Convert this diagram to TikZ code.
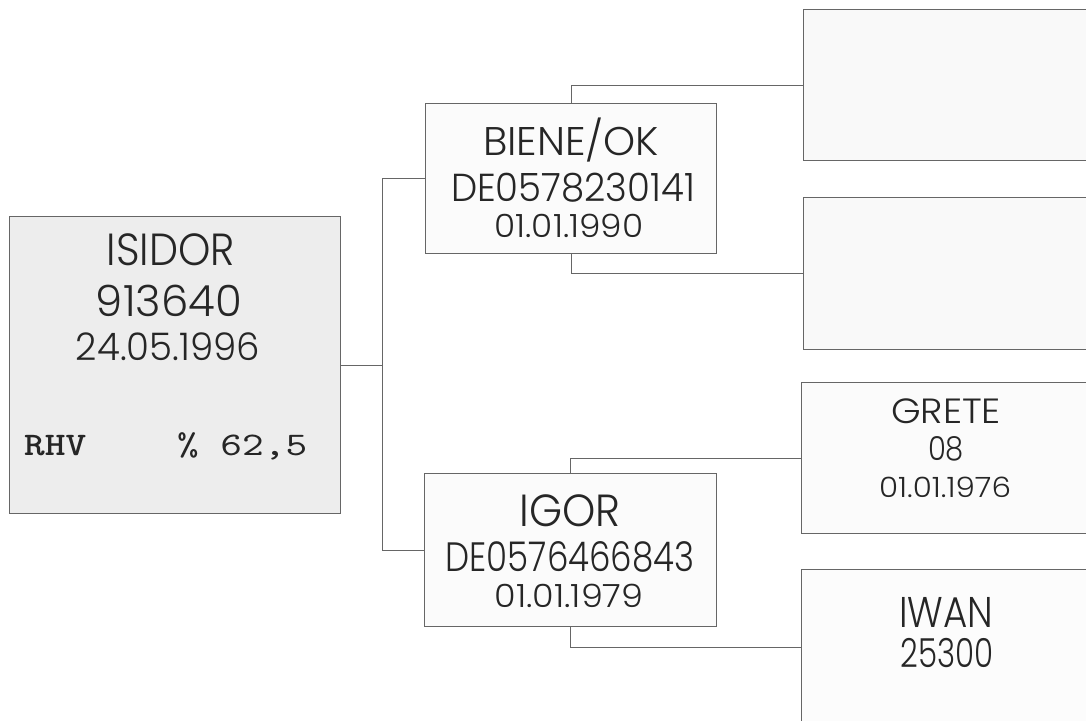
\documentclass[tikz,border=0pt]{standalone}
\usepackage{fontspec}
\setmainfont{Poppins Light}
\newfontfamily\monob{lmmonolt10-bold.otf}
\newfontfamily\monor{lmmono10-regular.otf}
\definecolor{inkc}{gray}{0.15}
\definecolor{linec}{gray}{0.4}
\newcommand\fw[2]{\resizebox{#1pt}{\height}{#2}}
\begin{document}
\begin{tikzpicture}[x=1pt,y=-1pt,
  box/.style={draw=linec, line width=0.9pt, anchor=north west, inner sep=0pt, fill=white},
  conn/.style={draw=linec, line width=0.7pt},
  txt/.style={anchor=base, inner sep=0pt, text=inkc}]
\useasboundingbox (0,0) rectangle (1086,720);
\clip (0,0) rectangle (1086,720);
\fill[white] (0,0) rectangle (1086,720);
% boxes
\node[box, fill=gray!14, minimum width=331pt, minimum height=297pt] (isidor) at (9,216) {};
\node[box, fill=gray!3, minimum width=291pt, minimum height=150pt] (biene) at (425,103) {};
\node[box, fill=gray!3, minimum width=292pt, minimum height=153pt] (igor) at (424,473) {};
\node[box, fill=gray!5, minimum width=290pt, minimum height=151pt] (r1) at (803,9) {};
\node[box, fill=gray!5, minimum width=290pt, minimum height=152pt] (r2) at (803,197) {};
\node[box, fill=gray!3, minimum width=292pt, minimum height=151pt] (grete) at (801,382) {};
\node[box, fill=gray!2, minimum width=292pt, minimum height=155pt] (iwan) at (801,569) {};
% connectors
\coordinate (j) at (382,367);
\draw[conn] (isidor.east) -- (isidor.east -| j);
\draw[conn] (biene.west) -- (biene.west -| j) |- (igor.west);
\draw[conn] (biene.north) |- (r1.west);
\draw[conn] (biene.south) |- (r2.west);
\draw[conn] (igor.north) |- (grete.west);
\draw[conn] (igor.south) |- (iwan.west);
% texts
\node[txt, font=\fontsize{45}{45}\selectfont] (t1) at (171,265) {\fw{128}{ISIDOR}};
\node[txt, font=\fontsize{43}{43}\selectfont] (t2) at (169,316) {\fw{146}{913640}};
\node[txt, font=\fontsize{38}{38}\selectfont] (t3) at (168,360) {\fw{184}{24.05.1996}};
\node[txt, anchor=base west, font=\monob\fontsize{33}{33}\selectfont] (t4) at (24,455) {\fw{62}{RHV}};
\node[txt, anchor=base west, font=\monor\fontsize{33}{33}\selectfont] (t5) at (177,455) {\fw{130}{\%~62,5}};
\node[txt, font=\fontsize{40}{40}\selectfont] (b1) at (571,155) {\fw{176}{BIENE/OK}};
\node[txt, font=\fontsize{39}{39}\selectfont] (b2) at (573,201) {\fw{244}{DE0578230141}};
\node[txt, font=\fontsize{32}{32}\selectfont] (b3) at (569,237) {\fw{149}{01.01.1990}};
\node[txt, font=\fontsize{45}{45}\selectfont] (g1) at (570,526) {\fw{101}{IGOR}};
\node[txt, font=\fontsize{41}{41}\selectfont] (g2) at (570,571) {\fw{249}{DE0576466843}};
\node[txt, font=\fontsize{32}{32}\selectfont] (g3) at (569,607) {\fw{149}{01.01.1979}};
\node[txt, font=\fontsize{35}{35}\selectfont] (r1a) at (946,423) {\fw{110}{GRETE}};
\node[txt, font=\fontsize{33}{33}\selectfont] (r1b) at (946,460) {\fw{36}{08}};
\node[txt, font=\fontsize{28}{28}\selectfont] (r1c) at (945,497) {\fw{132}{01.01.1976}};
\node[txt, font=\fontsize{43}{43}\selectfont] (w1) at (946,627) {\fw{94}{IWAN}};
\node[txt, font=\fontsize{40}{40}\selectfont] (w2) at (947,667) {\fw{93}{25300}};
\end{tikzpicture}
\end{document}
